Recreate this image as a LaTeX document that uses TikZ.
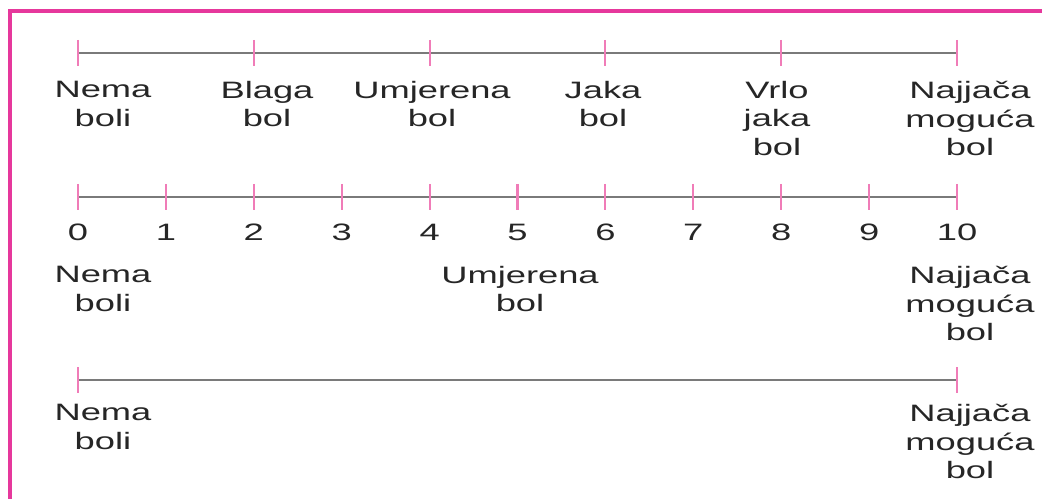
\documentclass[tikz,border=0pt]{standalone}
\usepackage{fontspec}
\setmainfont{Liberation Sans}[FakeStretch=1.53]
\usetikzlibrary{positioning}

\definecolor{framepink}{HTML}{E6389C}
\definecolor{tickpink}{HTML}{F07CB8}
\definecolor{linegray}{HTML}{7A7A7A}
\definecolor{textgray}{HTML}{262626}

\begin{document}
\begin{tikzpicture}[x=0.75pt,y=0.75pt]
  \tikzstyle{frame}=[draw=framepink,line width=3pt]
  \tikzstyle{scaleline}=[draw=linegray,line width=1.8pt]
  \tikzstyle{tick}=[draw=tickpink,line width=1.6pt]
  \tikzstyle{scaletext}=[anchor=north,inner sep=0pt,align=center,text=textgray,
                         font=\fontsize{17.8}{21.4}\selectfont]

  \useasboundingbox (0,0) rectangle (1042,-499);
  \draw[frame] (10,-499) -- (10,-11) -- (1042,-11);

  % verbal scale
  \coordinate (a0) at (78,-53);
  \coordinate (a2) at (253.8,-53);
  \coordinate (a4) at (429.6,-53);
  \coordinate (a6) at (605.4,-53);
  \coordinate (a8) at (781.2,-53);
  \coordinate (a10) at (957,-53);
  \draw[scaleline] (a0) -- (a10);
  \draw[tick] (a0) ++(0,13) -- ++(0,-26);
  \draw[tick] (a2) ++(0,13) -- ++(0,-26);
  \draw[tick] (a4) ++(0,13) -- ++(0,-26);
  \draw[tick] (a6) ++(0,13) -- ++(0,-26);
  \draw[tick] (a8) ++(0,13) -- ++(0,-26);
  \draw[tick] (a10) ++(0,13) -- ++(0,-26);

  \node[scaletext] (none1)   at (103,-81) {Nema\\boli};
  \node[scaletext] (mild1)   at (267,-81) {Blaga\\bol};
  \node[scaletext] (mod1)    at (432,-81) {Umjerena\\bol};
  \node[scaletext] (severe1) at (603,-81) {Jaka\\bol};
  \node[scaletext] (vsev1)   at (777,-81) {Vrlo\\jaka\\bol};
  \node[scaletext] (worst1)  at (970,-81) {Najjača\\moguća\\bol};

  % numeric scale
  \coordinate (b0) at (78,-197);
  \coordinate (b1) at (165.9,-197);
  \coordinate (b2) at (253.8,-197);
  \coordinate (b3) at (341.7,-197);
  \coordinate (b4) at (429.6,-197);
  \coordinate (b5) at (517.5,-197);
  \coordinate (b6) at (605.4,-197);
  \coordinate (b7) at (693.3,-197);
  \coordinate (b8) at (781.2,-197);
  \coordinate (b9) at (869.1,-197);
  \coordinate (b10) at (957,-197);
  \draw[scaleline] (b0) -- (b10);
  \draw[tick] (b0) ++(0,13) -- ++(0,-26);
  \draw[tick] (b1) ++(0,13) -- ++(0,-26);
  \draw[tick] (b2) ++(0,13) -- ++(0,-26);
  \draw[tick] (b3) ++(0,13) -- ++(0,-26);
  \draw[tick] (b4) ++(0,13) -- ++(0,-26);
  \draw[tick] (b5) ++(0,13) -- ++(0,-26);
  \draw[tick] (b6) ++(0,13) -- ++(0,-26);
  \draw[tick] (b7) ++(0,13) -- ++(0,-26);
  \draw[tick] (b8) ++(0,13) -- ++(0,-26);
  \draw[tick] (b9) ++(0,13) -- ++(0,-26);
  \draw[tick] (b10) ++(0,13) -- ++(0,-26);

  \node[scaletext] (d0)  [below=27 of b0]  {0};
  \node[scaletext] (d1)  [below=27 of b1]  {1};
  \node[scaletext] (d2)  [below=27 of b2]  {2};
  \node[scaletext] (d3)  [below=27 of b3]  {3};
  \node[scaletext] (d4)  [below=27 of b4]  {4};
  \node[scaletext] (d5)  [below=27 of b5]  {5};
  \node[scaletext] (d6)  [below=27 of b6]  {6};
  \node[scaletext] (d7)  [below=27 of b7]  {7};
  \node[scaletext] (d8)  [below=27 of b8]  {8};
  \node[scaletext] (d9)  [below=27 of b9]  {9};
  \node[scaletext] (d10) [below=27 of b10] {10};

  \node[scaletext] (none2)  at (103,-266) {Nema\\boli};
  \node[scaletext] (mod2)   at (520,-266) {Umjerena\\bol};
  \node[scaletext] (worst2) at (970,-266) {Najjača\\moguća\\bol};

  % visual analogue scale
  \coordinate (c0) at (78,-380);
  \coordinate (c10) at (957,-380);
  \draw[scaleline] (c0) -- (c10);
  \draw[tick] (c0) ++(0,13) -- ++(0,-26);
  \draw[tick] (c10) ++(0,13) -- ++(0,-26);

  \node[scaletext] (none3)  at (103,-404) {Nema\\boli};
  \node[scaletext] (worst3) at (970,-404) {Najjača\\moguća\\bol};
\end{tikzpicture}
\end{document}
